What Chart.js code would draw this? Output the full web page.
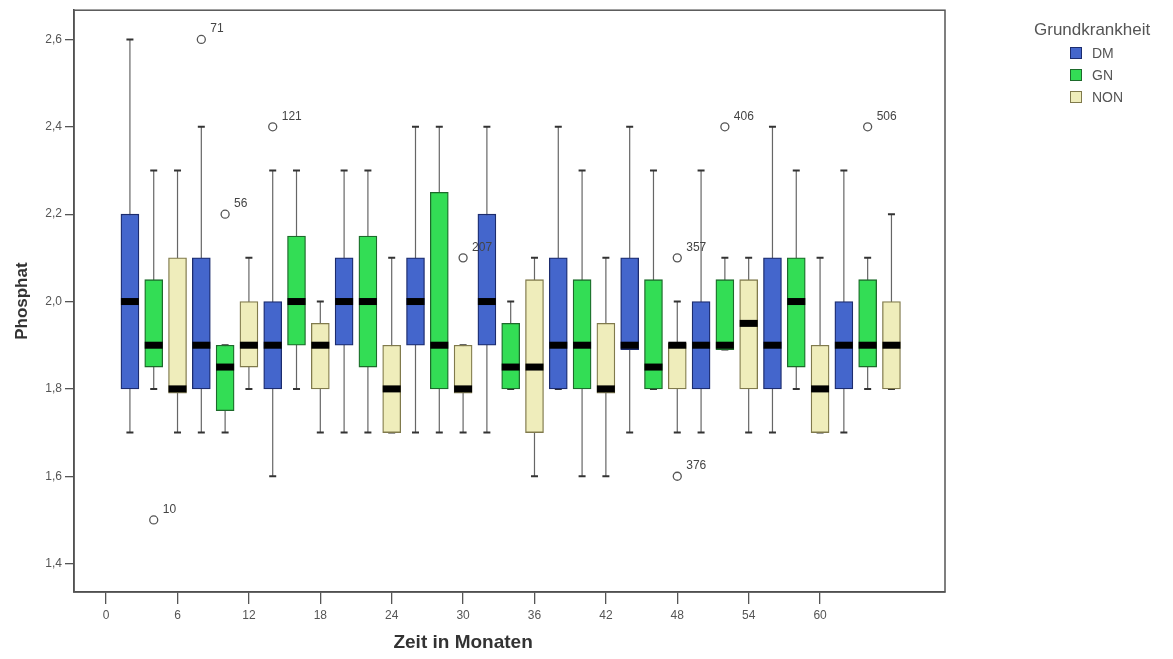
<!DOCTYPE html>
<html>
<head>
<meta charset="utf-8">
<script src="https://cdn.jsdelivr.net/npm/chart.js@4.4.0/dist/chart.umd.min.js"></script>
<style>
    body { margin: 0; background: #fff; font-family: "Liberation Sans", Arial, sans-serif; }
    #wrap { position: relative; width: 1173px; height: 659px; }
    #legend { position: absolute; left: 1034px; top: 20px; color: #555; }
    #legend .title { font-size: 17px; margin-bottom: 2px; }
    #legend .item { font-size: 14px; height: 22px; line-height: 22px; padding-left: 36px; }
    #legend .swatch { display: inline-block; width: 10px; height: 10px; border: 1px solid; margin-right: 10px; vertical-align: -1px; }
</style>
</head>
<body>
<div id="wrap">
    <canvas id="chart"></canvas>
    <div id="legend"></div>
</div>
<script>
// Zeitpunkte (Monate), je Gruppe ein Cluster aus drei Boxen
const zeitpunkte = [0, 6, 12, 18, 24, 30, 36, 42, 48, 54, 60];
const xTicks = [0, 6, 12, 18, 24, 30, 36, 42, 48, 54, 60];
const yTicks = [1.4, 1.6, 1.8, 2.0, 2.2, 2.4, 2.6];
const gruppen = ['DM', 'GN', 'NON'];

// DM
const dmMin = [1.7, 1.7, 1.6, 1.7, 1.7, 1.7, 1.8, 1.7, 1.7, 1.7, 1.7];
const dmQ1 = [1.8, 1.8, 1.8, 1.9, 1.9, 1.9, 1.8, 1.89, 1.8, 1.8, 1.8];
const dmMedian = [2.0, 1.9, 1.9, 2.0, 2.0, 2.0, 1.9, 1.9, 1.9, 1.9, 1.9];
const dmQ3 = [2.2, 2.1, 2.0, 2.1, 2.1, 2.2, 2.1, 2.1, 2.0, 2.1, 2.0];
const dmMax = [2.6, 2.4, 2.3, 2.3, 2.4, 2.4, 2.4, 2.4, 2.3, 2.4, 2.3];

// GN
const gnMin = [1.8, 1.7, 1.8, 1.7, 1.7, 1.8, 1.6, 1.8, 1.89, 1.8, 1.8];
const gnQ1 = [1.85, 1.75, 1.9, 1.85, 1.8, 1.8, 1.8, 1.8, 1.89, 1.85, 1.85];
const gnMedian = [1.9, 1.85, 2.0, 2.0, 1.9, 1.85, 1.9, 1.85, 1.9, 2.0, 1.9];
const gnQ3 = [2.05, 1.9, 2.15, 2.15, 2.25, 1.95, 2.05, 2.05, 2.05, 2.1, 2.05];
const gnMax = [2.3, 1.9, 2.3, 2.3, 2.4, 2.0, 2.3, 2.3, 2.1, 2.3, 2.1];

// NON
const nonMin = [1.7, 1.8, 1.7, 1.7, 1.7, 1.6, 1.6, 1.7, 1.7, 1.7, 1.8];
const nonQ1 = [1.79, 1.85, 1.8, 1.7, 1.79, 1.7, 1.79, 1.8, 1.8, 1.7, 1.8];
const nonMedian = [1.8, 1.9, 1.9, 1.8, 1.8, 1.85, 1.8, 1.9, 1.95, 1.8, 1.9];
const nonQ3 = [2.1, 2.0, 1.95, 1.9, 1.9, 2.05, 1.95, 1.905, 2.05, 1.9, 2.0];
const nonMax = [2.3, 2.1, 2.0, 2.1, 1.9, 2.1, 2.1, 2.0, 2.1, 2.1, 2.2];

// Ausreisser
const ausreisserGruppe = ['GN', 'DM', 'GN', 'DM', 'NON', 'NON', 'NON', 'GN', 'GN'];
const ausreisserZeit = [0, 6, 6, 12, 24, 42, 42, 48, 60];
const ausreisserWert = [1.5, 2.6, 2.2, 2.4, 2.1, 2.1, 1.6, 2.4, 2.4];
const ausreisserLabel = ['10', '71', '56', '121', '207', '357', '376', '406', '506'];

// Layout: Versatz der Boxen innerhalb eines Clusters (Monate)
const versatz = { DM: 2, GN: 4, NON: 6 };
const farben = {
    DM: { fill: '#4466cc', border: '#1c2c6e' },
    GN: { fill: '#33dd55', border: '#1d6a2b' },
    NON: { fill: '#efedbb', border: '#807a4c' }
};

const serien = [
    { name: 'DM', min: dmMin, q1: dmQ1, median: dmMedian, q3: dmQ3, max: dmMax },
    { name: 'GN', min: gnMin, q1: gnQ1, median: gnMedian, q3: gnQ3, max: gnMax },
    { name: 'NON', min: nonMin, q1: nonQ1, median: nonMedian, q3: nonQ3, max: nonMax }
];

const datasets = serien.map(s => ({
    type: 'bar',
    label: s.name,
    data: zeitpunkte.map((t, i) => ({ x: t + versatz[s.name], y: [s.q1[i], s.q3[i]] })),
    backgroundColor: farben[s.name].fill,
    borderColor: farben[s.name].border,
    borderWidth: 1.3,
    borderSkipped: false,
    barThickness: 18,
    grouped: false
}));

datasets.push({
    type: 'scatter',
    label: 'Ausreisser',
    data: ausreisserWert.map((v, i) => ({ x: ausreisserZeit[i] + versatz[ausreisserGruppe[i]], y: v })),
    pointStyle: 'circle',
    pointRadius: 4,
    backgroundColor: '#fff',
    borderColor: '#555',
    borderWidth: 1.3
});

const boxPlugin = {
    id: 'boxPlot',
    beforeDatasetsDraw(chart) {
        const ctx = chart.ctx;
        const y = chart.scales.y;
        ctx.save();
        serien.forEach((s, i) => {
            chart.getDatasetMeta(i).data.forEach((bar, j) => {
                const top = y.getPixelForValue(s.max[j]);
                const bot = y.getPixelForValue(s.min[j]);
                ctx.strokeStyle = '#666';
                ctx.lineWidth = 1.2;
                ctx.beginPath();
                ctx.moveTo(bar.x, top);
                ctx.lineTo(bar.x, bot);
                ctx.stroke();
                ctx.strokeStyle = '#333';
                ctx.lineWidth = 2;
                ctx.beginPath();
                ctx.moveTo(bar.x - 3.5, top);
                ctx.lineTo(bar.x + 3.5, top);
                ctx.moveTo(bar.x - 3.5, bot);
                ctx.lineTo(bar.x + 3.5, bot);
                ctx.stroke();
            });
        });
        ctx.restore();
    },
    afterDatasetsDraw(chart) {
        const ctx = chart.ctx;
        const x = chart.scales.x, y = chart.scales.y;
        const area = chart.chartArea;
        ctx.save();

        // Median
        ctx.fillStyle = '#000';
        serien.forEach((s, i) => {
            chart.getDatasetMeta(i).data.forEach((bar, j) => {
                const ym = y.getPixelForValue(s.median[j]);
                ctx.fillRect(bar.x - bar.width / 2, ym - 3.5, bar.width, 7);
            });
        });

        // Ausreisser-Nummern
        const pts = chart.getDatasetMeta(serien.length).data;
        ctx.fillStyle = '#444';
        ctx.font = '12px "Liberation Sans", Arial, sans-serif';
        ctx.textAlign = 'left';
        ctx.textBaseline = 'alphabetic';
        pts.forEach((p, i) => {
            ctx.fillText(ausreisserLabel[i], p.x + 9, p.y - 7);
        });

        // Rahmen
        ctx.strokeStyle = '#555';
        ctx.lineWidth = 1.5;
        ctx.strokeRect(area.left, area.top, area.right - area.left, area.bottom - area.top);

        // X-Titel
        ctx.fillStyle = '#333';
        ctx.font = 'bold 19px "Liberation Sans", Arial, sans-serif';
        ctx.textAlign = 'center';
        ctx.textBaseline = 'middle';
        ctx.fillText('Zeit in Monaten', x.getPixelForValue(30), 643);
        ctx.restore();
    }
};

const ctx = document.getElementById('chart');
new Chart(ctx, {
    type: 'bar',
    data: { datasets: datasets },
    options: {
        responsive: true,
        maintainAspectRatio: false,
        animation: false,
        layout: { padding: { top: 9, right: 228, left: 0, bottom: 0 } },
        plugins: {
            legend: { display: false },
            tooltip: { enabled: false }
        },
        scales: {
            x: {
                type: 'linear',
                offset: false,
                min: -2.7,
                max: 70.5,
                afterBuildTicks: axis => { axis.ticks = xTicks.map(v => ({ value: v })); },
                afterFit: axis => { axis.height = 67; },
                grid: { offset: false, drawOnChartArea: false, tickLength: 12, color: '#555', lineWidth: 1.3 },
                border: { color: '#444', width: 1.5 },
                ticks: { color: '#555', font: { size: 12 }, padding: 4, maxRotation: 0 }
            },
            y: {
                min: 1.335,
                max: 2.667,
                afterBuildTicks: axis => { axis.ticks = yTicks.map(v => ({ value: v })); },
                afterFit: axis => { axis.width = 74; },
                grid: { drawOnChartArea: false, tickLength: 9, color: '#555', lineWidth: 1.3 },
                border: { color: '#444', width: 1.5 },
                ticks: {
                    color: '#555',
                    font: { size: 12 },
                    padding: 3,
                    callback: v => v.toFixed(1).replace('.', ',')
                },
                title: {
                    display: true,
                    text: 'Phosphat',
                    color: '#333',
                    font: { size: 17, weight: 'bold' },
                    padding: { top: 12, bottom: 0 }
                }
            }
        }
    },
    plugins: [boxPlugin]
});

// Legende
const legend = document.getElementById('legend');
let html = '<div class="title">Grundkrankheit</div>';
gruppen.forEach(g => {
    html += '<div class="item"><span class="swatch" style="background:' + farben[g].fill +
        ';border-color:' + farben[g].border + '"></span>' + g + '</div>';
});
legend.innerHTML = html;
</script>
</body>
</html>
